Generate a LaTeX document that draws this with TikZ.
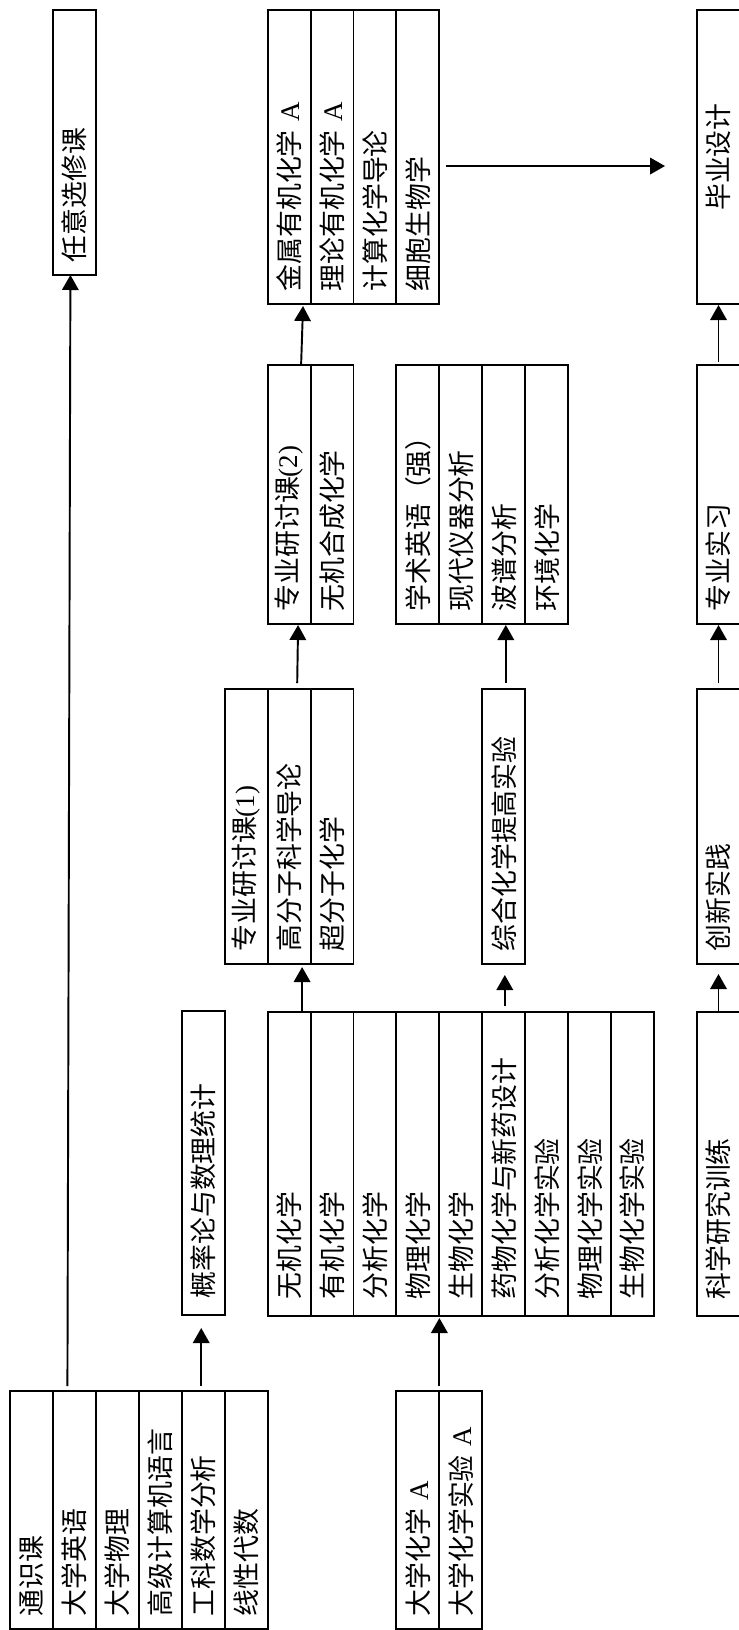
\documentclass[tikz,border=0pt]{standalone}
\usepackage{fontspec}
\setmainfont{Liberation Serif}
\newfontfamily\cjk{Noto Sans CJK SC}
\usetikzlibrary{arrows.meta}
\newcommand{\drawa}{\draw[line width=1.1pt, ->]}
\tikzset{course/.style={draw, line width=1.1pt, rotate=90, anchor=north west, outer sep=0pt,
    minimum height=0.8588cm, inner xsep=0.25cm, inner ysep=0pt, align=left, text width=#1,
    font=\cjk\fontsize{15.3}{18}\selectfont}}

\begin{document}
\begin{tikzpicture}[x=0.02cm, y=0.02cm, >={Triangle[length=0.3cm, width=0.33cm]}]
\useasboundingbox (0,0) rectangle (738,-1630);
% Nhóm môn chung
\node[course=4.26cm] (tsk)  at (10,-1629)     {通识课};
\node[course=4.26cm] (dxyy) at (52.94,-1629)  {大学英语};
\node[course=4.26cm] (dxwl) at (95.88,-1629)  {大学物理};
\node[course=4.26cm] (gjyy) at (138.82,-1629) {高级计算机语言};
\node[course=4.26cm] (gksx) at (181.76,-1629) {工科数学分析};
\node[course=4.26cm] (xxds) at (224.7,-1629)  {线性代数};
\node[course=4.26cm] (dxhx) at (396.46,-1629) {大学化学 {\rmfamily A}};
\node[course=4.26cm] (dxsy) at (439.4,-1629)  {大学化学实验 {\rmfamily A}};

\node[course=4.80cm] (rxxk) at (52.94,-275) {任意选修课};
\node[course=5.42cm, inner xsep=0.33cm] (gll) at (181.76,-1315) {概率论与数理统计};

% Nhóm hóa học cơ sở
\node[course=5.42cm, inner xsep=0.33cm] (wjhx) at (267.64,-1316) {无机化学};
\node[course=5.42cm, inner xsep=0.33cm] (yjhx) at (310.58,-1316) {有机化学};
\node[course=5.42cm, inner xsep=0.33cm] (fxhx) at (353.52,-1316) {分析化学};
\node[course=5.42cm, inner xsep=0.33cm] (wlhx) at (396.46,-1316) {物理化学};
\node[course=5.42cm, inner xsep=0.33cm] (swhx) at (439.4,-1316)  {生物化学};
\node[course=5.42cm, inner xsep=0.33cm] (ywhx) at (482.34,-1316) {药物化学与新药设计};
\node[course=5.42cm, inner xsep=0.33cm] (fxsy) at (525.28,-1316) {分析化学实验};
\node[course=5.42cm, inner xsep=0.33cm] (wlsy) at (568.22,-1316) {物理化学实验};
\node[course=5.42cm, inner xsep=0.33cm] (swsy) at (611.16,-1316) {生物化学实验};
\node[course=5.42cm, inner xsep=0.33cm] (kxyj) at (697.04,-1316) {科学研究训练};

% Nhóm chuyên ngành
\node[course=5.00cm] (ytka) at (224.7,-964)  {专业研讨课{\rmfamily(1)}};
\node[course=5.00cm] (gfz)  at (267.64,-964) {高分子科学导论};
\node[course=5.00cm] (cfz)  at (310.58,-964) {超分子化学};
\node[course=5.00cm] (zhsy) at (482.34,-964) {综合化学提高实验};
\node[course=5.00cm] (cxsj) at (697.04,-964) {创新实践};

\node[course=4.68cm] (ytkb) at (267.64,-624) {专业研讨课{\rmfamily(2)}};
\node[course=4.68cm] (wjhc) at (310.58,-624) {无机合成化学};
\node[course=4.68cm] (xsyy) at (396.46,-624) {学术英语（强）};
\node[course=4.68cm] (xdyq) at (439.4,-624)  {现代仪器分析};
\node[course=4.68cm] (bpfx) at (482.34,-624) {波谱分析};
\node[course=4.68cm] (hjhx) at (525.28,-624) {环境化学};
\node[course=4.68cm] (zysx) at (697.04,-624) {专业实习};

\node[course=5.38cm] (jsyj) at (267.64,-304) {金属有机化学 {\rmfamily A}};
\node[course=5.38cm] (llyj) at (310.58,-304) {理论有机化学 {\rmfamily A}};
\node[course=5.38cm] (jshx) at (353.52,-304) {计算化学导论};
\node[course=5.38cm] (xbsw) at (396.46,-304) {细胞生物学};
\node[course=5.38cm, align=center] (bysj) at (697.04,-304) {毕业设计};

% Mũi tên
\drawa[shorten <=0.1cm] ([xshift=-0.14cm]dxyy.east) -- ([xshift=-0.08cm]rxxk.west);
\drawa[shorten <=0.1cm, shorten >=0.26cm] ([xshift=-0.04cm]gksx.east) -- ([xshift=-0.04cm]gll.west);
\drawa[shorten <=0.1cm, shorten >=0.04cm] (dxhx.south east) -- (wlhx.south west);
\drawa[shorten >=0.06cm] ([xshift=0.26cm]wjhx.east) -- ([xshift=0.26cm]gfz.west);
\drawa[shorten <=0.12cm, shorten >=0.22cm] ([xshift=0.02cm]ywhx.east) -- ([xshift=0.02cm]zhsy.west);
\drawa[shorten <=0.12cm, shorten >=0.02cm] ([xshift=0.16cm]gfz.east) -- ([xshift=0.18cm]ytkb.west);
\drawa[shorten <=0.12cm, shorten >=0.02cm] ([xshift=0.04cm]zhsy.east) -- ([xshift=0.04cm]bpfx.west);
\drawa[shorten >=0.04cm] ([xshift=0.24cm]ytkb.east) -- ([xshift=0.28cm]jsyj.west);
\drawa[shorten <=0.14cm, shorten >=0.64cm] ([yshift=-0.18cm]xbsw.south) -- ([yshift=-0.18cm]bysj.north);
\drawa[shorten <=0.06cm, shorten >=0.02cm] (zysx.east) -- (bysj.west);
\drawa[shorten <=0.12cm, shorten >=0.02cm] (cxsj.east) -- (zysx.west);
\drawa[shorten <=0.02cm, shorten >=0.2cm] (kxyj.east) -- (cxsj.west);
\end{tikzpicture}
\end{document}
